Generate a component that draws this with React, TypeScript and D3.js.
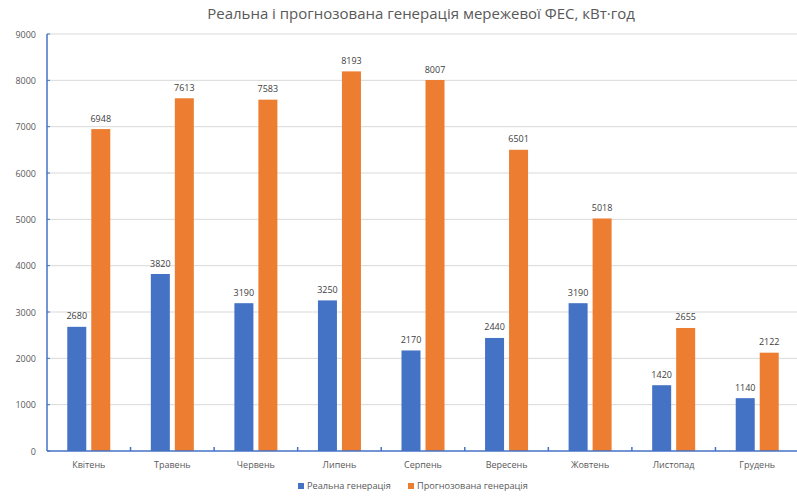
import React from "react";
import * as d3 from "d3";

const categories = ["Квітень", "Травень", "Червень", "Липень", "Серпень", "Вересень", "Жовтень", "Листопад", "Грудень"];
const realGen = [2680, 3820, 3190, 3250, 2170, 2440, 3190, 1420, 1140];
const forecastGen = [6948, 7613, 7583, 8193, 8007, 6501, 5018, 2655, 2122];
const yTicks = [0, 1000, 2000, 3000, 4000, 5000, 6000, 7000, 8000, 9000];
const seriesNames = ["Реальна генерація", "Прогнозована генерація"];

const W = 797, H = 496;
const left = 47, right = 799, top = 34, bottom = 451;
const BLUE = "#4472C4", ORANGE = "#ED7D31", TEXT = "#595959";
const FONT = "'Open Sans', 'Noto Sans', sans-serif";

export default function App() {
  const x = d3.scaleBand<string>().domain(categories).range([left, right]).padding(0);
  const y = d3.scaleLinear().domain([0, 9000]).range([bottom, top]);
  const bw = 19, gap = 5;
  const step = x.step();
  return (
    <svg width={W} height={H} style={{ position: "absolute", left: 0, top: 0, background: "#fff" }}>
      <rect width={W} height={H} fill="#fff" />
      <text x={421} y={19} textAnchor="middle" fontFamily={FONT} fontSize={15} fill={TEXT}>
        Реальна і прогнозована генерація мережевої ФЕС, кВт·год
      </text>
      {yTicks.map((t) => (
        <g key={t}>
          {t > 0 && <line x1={left} x2={right} y1={y(t)} y2={y(t)} stroke="#d9d9d9" strokeWidth={1} />}
          <line x1={left} x2={left + 3} y1={y(t)} y2={y(t)} stroke={BLUE} strokeWidth={1} />
          <text x={36} y={y(t) + 3.5} textAnchor="end" fontFamily={FONT} fontSize={9} fill={TEXT}>{t}</text>
        </g>
      ))}
      {categories.map((c, i) => {
        const cx = (x(c) as number) + step / 2;
        return (
          <g key={c}>
            <rect x={cx - gap / 2 - bw} y={y(realGen[i])} width={bw} height={bottom - y(realGen[i])} fill={BLUE} />
            <rect x={cx + gap / 2} y={y(forecastGen[i])} width={bw} height={bottom - y(forecastGen[i])} fill={ORANGE} />
            <text x={cx - gap / 2 - bw / 2} y={y(realGen[i]) - 7.5} textAnchor="middle" fontFamily={FONT} fontSize={9} fill="#404040">{realGen[i]}</text>
            <text x={cx + gap / 2 + bw / 2} y={y(forecastGen[i]) - 7.5} textAnchor="middle" fontFamily={FONT} fontSize={9} fill="#404040">{forecastGen[i]}</text>
            <text x={cx} y={468} textAnchor="middle" fontFamily={FONT} fontSize={9} fill={TEXT}>{c}</text>
            {i > 0 && <line x1={x(c) as number} x2={x(c) as number} y1={bottom} y2={bottom - 4} stroke={BLUE} strokeWidth={1.5} />}
          </g>
        );
      })}
      <line x1={left} x2={left} y1={top} y2={bottom} stroke={BLUE} strokeWidth={1.5} />
      <line x1={left} x2={right} y1={bottom} y2={bottom} stroke={BLUE} strokeWidth={1.5} />
      <rect x={298} y={483} width={6} height={6} fill={BLUE} />
      <text x={307} y={489} fontFamily={FONT} fontSize={9.2} fill={TEXT}>{seriesNames[0]}</text>
      <rect x={408} y={483} width={6} height={6} fill={ORANGE} />
      <text x={417} y={489} fontFamily={FONT} fontSize={9.2} fill={TEXT}>{seriesNames[1]}</text>
    </svg>
  );
}
